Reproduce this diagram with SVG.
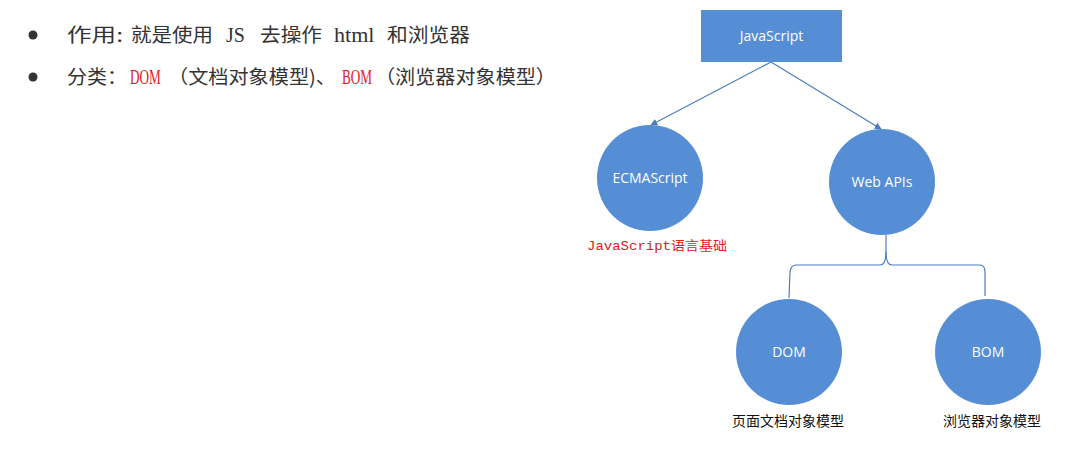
<svg xmlns="http://www.w3.org/2000/svg" width="1066" height="450" viewBox="0 0 1066 450">
<defs>
<style>
.node{fill:#558ed5;}
.nt{fill:#fff;font-family:"Open Sans","Noto Sans","Noto Sans CJK SC",sans-serif;font-size:14px;text-anchor:middle;}
.line{stroke:#4a7ebb;stroke-width:1.2;fill:none;}
.body{font-family:"Noto Sans CJK SC",sans-serif;font-size:19px;fill:#333;}
.lat{font-family:"Liberation Serif",serif;font-size:21px;fill:#333;}
.red{fill:#e0201f;}
.lbl{font-family:"Noto Sans CJK SC",sans-serif;font-size:14px;fill:#111;text-anchor:middle;}
</style>
<marker id="arr" viewBox="0 0 10 10" refX="9" refY="5" markerWidth="7" markerHeight="7" orient="auto-start-reverse" markerUnits="userSpaceOnUse">
<path d="M0,0 L10,5 L0,10 z" fill="#4a7ebb"/>
</marker>
</defs>
<rect width="1066" height="450" fill="#fff"/>
<g id="bullets">
<circle cx="33" cy="35" r="4.5" fill="#333"/>
<circle cx="33" cy="77" r="4.5" fill="#333"/>
<text class="body" x="67" y="42" textLength="56" lengthAdjust="spacingAndGlyphs">作用:</text>
<text class="body" x="131" y="42" textLength="82" lengthAdjust="spacingAndGlyphs">就是使用</text>
<text class="lat" transform="translate(226,42) scale(0.95,1)">JS</text>
<text class="body" x="260" y="42" textLength="62" lengthAdjust="spacingAndGlyphs">去操作</text>
<text class="lat" transform="translate(334,42) scale(1.05,1)">html</text>
<text class="body" x="387" y="42" textLength="83" lengthAdjust="spacingAndGlyphs">和浏览器</text>
<text class="body" x="67" y="84" textLength="60" lengthAdjust="spacingAndGlyphs">分类：</text>
<text class="lat red" transform="translate(130,84) scale(0.63,1)">DOM</text>
<text class="body" x="168" y="84" textLength="168" lengthAdjust="spacingAndGlyphs">（文档对象模型)、</text>
<text class="lat red" transform="translate(342,84) scale(0.63,1)">BOM</text>
<text class="body" x="375" y="84" textLength="181" lengthAdjust="spacingAndGlyphs">（浏览器对象模型）</text>
</g>
<g id="connectors">
<line class="line" x1="771" y1="62" x2="651" y2="125" marker-end="url(#arr)"/>
<line class="line" x1="771" y1="62" x2="881" y2="129" marker-end="url(#arr)"/>
<path class="line" d="M886,235 L886,252 Q886,265 880,265 L796,265 Q791,265 790,272 L789,298"/>
<path class="line" d="M886,252 Q886,265 892,265 L980,265 Q985,265 985,272 L985,296"/>
</g>
<g id="node-javascript">
<rect class="node" x="701" y="10" width="141" height="52"/>
<text class="nt" x="771.5" y="41">JavaScript</text>
</g>
<g id="node-ecmascript">
<circle class="node" cx="650" cy="178" r="53"/>
<text class="nt" x="650" y="183">ECMAScript</text>
<text x="657" y="250" font-family="Liberation Mono,Noto Sans CJK SC,monospace" font-size="13" fill="#e0201f" text-anchor="middle" textLength="140" lengthAdjust="spacingAndGlyphs">JavaScript语言基础</text>
</g>
<g id="node-webapis">
<circle class="node" cx="882" cy="182" r="53"/>
<text class="nt" x="882" y="187">Web APIs</text>
</g>
<g id="node-dom">
<circle class="node" cx="789" cy="352" r="53"/>
<text class="nt" x="789" y="357">DOM</text>
<text class="lbl" x="788" y="426">页面文档对象模型</text>
</g>
<g id="node-bom">
<circle class="node" cx="988" cy="352" r="53"/>
<text class="nt" x="988" y="357">BOM</text>
<text class="lbl" x="992" y="426">浏览器对象模型</text>
</g>
</svg>
